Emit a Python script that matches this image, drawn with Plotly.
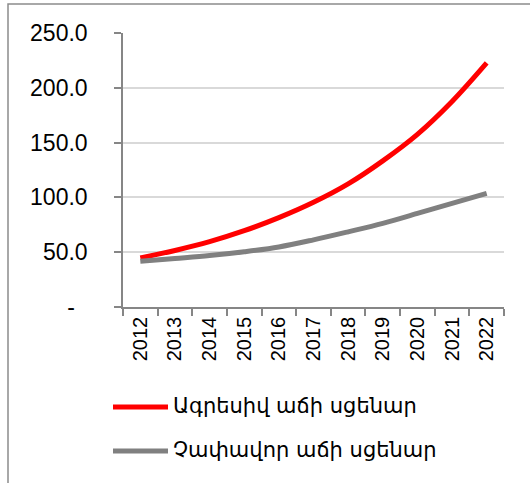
import plotly.graph_objects as go

years = ["2012", "2013", "2014", "2015", "2016", "2017", "2018", "2019", "2020", "2021", "2022"]
aggressive = [44.8, 51.6, 59.6, 69.6, 81.5, 95.5, 112.3, 133.3, 157.5, 187.5, 222.7]
moderate = [41.8, 44.3, 46.9, 50.4, 54.8, 61.3, 68.6, 76.3, 85.4, 94.6, 103.7]
series_names = ["Ագրեսիվ աճի սցենար", "Չափավոր աճի սցենար"]
series_colors = ["#ff0000", "#808080"]
y_tickvals = [0, 50, 100, 150, 200, 250]
y_ticktext = ["-\u00a0\u00a0", "50.0", "100.0", "150.0", "200.0", "250.0"]

W, H = 530, 483
L, R, T, B = 123, 26, 33, 176
pw, ph = W - L - R, H - T - B


def px_x(p):
    return (p - L) / pw


def px_y(p):
    return (H - B - p) / ph


fig = go.Figure()
for name, vals, col in zip(series_names, [aggressive, moderate], series_colors):
    fig.add_trace(go.Scatter(
        x=years, y=vals, name=name, mode="lines",
        line=dict(color=col, width=5, shape="spline", smoothing=1.0),
        showlegend=False,
    ))

shapes = [
    dict(type="rect", xref="paper", yref="paper",
         x0=px_x(8), x1=px_x(560), y0=px_y(520), y1=px_y(4),
         line=dict(color="#8c8c8c", width=1.5), fillcolor="rgba(0,0,0,0)", layer="below"),
]
annotations = []
leg_y = [407, 451]
for name, col, yy in zip(series_names, series_colors, leg_y):
    shapes.append(dict(type="line", xref="paper", yref="paper",
                       x0=px_x(113), x1=px_x(168), y0=px_y(yy), y1=px_y(yy),
                       line=dict(color=col, width=5)))
    annotations.append(dict(xref="paper", yref="paper", x=px_x(171), y=px_y(yy - 1),
                            text=name, showarrow=False, xanchor="left", yanchor="middle",
                            font=dict(family="DejaVu Sans", size=21, color="#000000")))

fig.update_layout(
    width=W, height=H,
    margin=dict(l=L, r=R, t=T, b=B),
    paper_bgcolor="white", plot_bgcolor="white",
    shapes=shapes, annotations=annotations,
    font=dict(family="Liberation Sans, Arial, sans-serif", color="#000000"),
    xaxis=dict(
        type="category", tickson="boundaries", ticks="outside", ticklen=7,
        tickcolor="#868686", tickwidth=1.5,
        showline=True, linecolor="#868686", linewidth=1.5,
        showgrid=False, tickangle=-90, tickfont=dict(size=20),
        range=[-0.5, 10.5],
    ),
    yaxis=dict(
        range=[0, 250], tickvals=y_tickvals, ticktext=y_ticktext,
        ticks="outside", ticklen=7, tickcolor="#868686", tickwidth=1.5,
        showline=True, linecolor="#868686", linewidth=1.5,
        showgrid=True, gridcolor="#d9d9d9", gridwidth=1.5,
        zeroline=False, tickfont=dict(size=23), ticklabelstandoff=22,
    ),
)

fig.write_html("out.html", config={"displayModeBar": False},
               post_script="document.body.style.margin='0';document.body.style.overflow='hidden';")
